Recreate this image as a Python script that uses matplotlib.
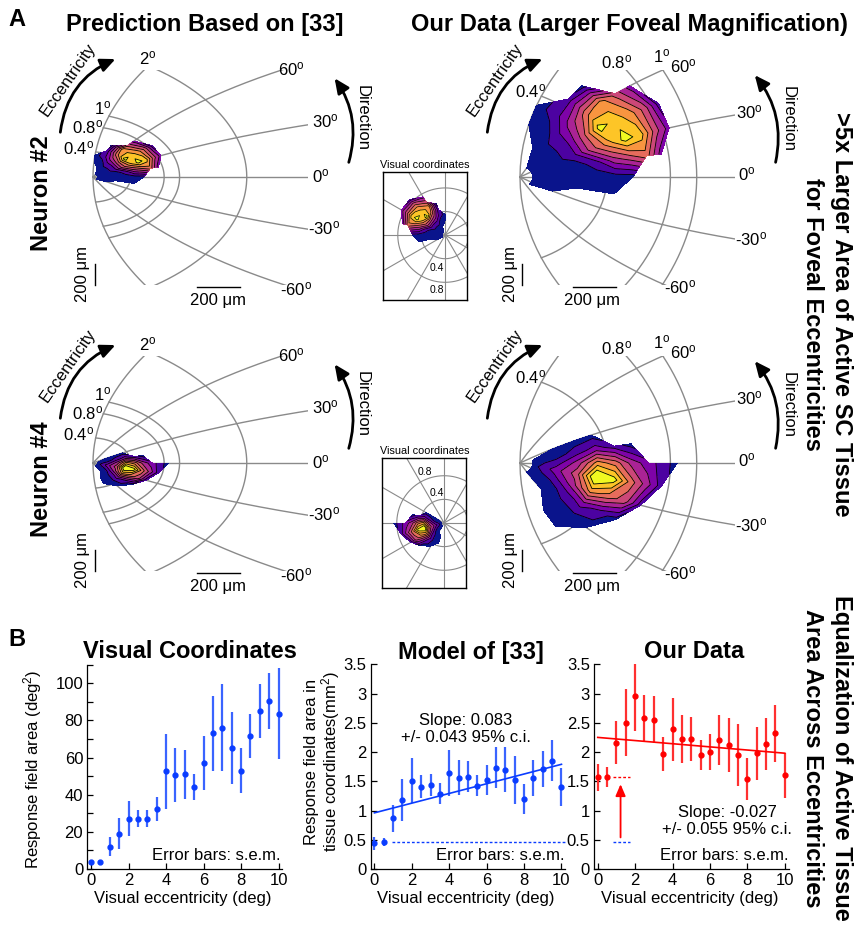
import numpy as np
import matplotlib.pyplot as plt
from matplotlib.patches import FancyArrowPatch
from matplotlib.ticker import MultipleLocator, FormatStrFormatter

plt.rcParams['font.family'] = ['Liberation Sans', 'DejaVu Sans']
plt.rcParams['mathtext.fontset'] = 'custom'
plt.rcParams['mathtext.rm'] = 'Liberation Sans'
plt.rcParams['mathtext.it'] = 'Liberation Sans:italic'
plt.rcParams['mathtext.bf'] = 'Liberation Sans:bold'

# ---------------- panel B: response field area vs eccentricity ----------------
ecc_bins = [0, 0.5, 1, 1.5, 2, 2.5, 3, 3.5, 4, 4.5, 5, 5.5, 6, 6.5, 7, 7.5, 8, 8.5, 9, 9.5, 10]
vis_area = [4, 4, 12, 19, 27, 27, 27, 32.5, 52.5, 50.5, 51, 44, 57, 73, 76, 65, 53, 71.5, 85, 90.5, 83.5]
vis_sem = [0.8, 0.8, 5, 8.5, 9.5, 4.5, 4.5, 6.5, 20, 14.5, 13.3, 7, 14.5, 20, 23.5, 19.5, 12, 12, 14.5, 15, 24.5]
model_area = [0.44, 0.46, 0.87, 1.18, 1.51, 1.41, 1.44, 1.29, 1.64, 1.56, 1.58, 1.42, 1.52, 1.73, 1.70,
              1.52, 1.20, 1.55, 1.71, 1.85, 1.40]
model_sem = [0.11, 0.07, 0.23, 0.36, 0.38, 0.20, 0.19, 0.18, 0.40, 0.30, 0.27, 0.18, 0.25, 0.35, 0.39,
             0.41, 0.26, 0.31, 0.31, 0.35, 0.32]
data_area = [1.57, 1.57, 2.16, 2.50, 2.95, 2.58, 2.55, 1.97, 2.39, 2.22, 2.22, 1.95, 2.00, 2.21, 2.12,
             1.95, 1.54, 1.98, 2.14, 2.32, 1.60]
data_sem = [0.23, 0.17, 0.37, 0.57, 0.59, 0.40, 0.40, 0.29, 0.54, 0.41, 0.38, 0.26, 0.30, 0.43, 0.46,
            0.53, 0.36, 0.45, 0.45, 0.49, 0.38]
model_slope, model_ci, model_icpt = 0.083, 0.043, 0.96
data_slope, data_ci, data_icpt = -0.027, 0.055, 2.25
model_fovea = 0.46
data_fovea = 1.57

# ---------------- panel A: response fields on a polar (ecc, direction) grid ----------------
n = np.nan
rf_ecc = [0.05, 0.15, 0.25, 0.35, 0.45, 0.55, 0.65, 0.75, 0.85]
rf_dir = [-90, -75, -60, -45, -30, -15, 0, 15, 30, 45, 60, 75, 90]
rf_neuron2 = [
    [n, n, n, 0, 0, 0, 0, 0, 0, 0, 0, n, n],
    [n, n, n, n, 0, 0, 0, 0, 0, 0, 0, 0, n],
    [n, n, n, n, n, 0, 0, 0, 1, 1, 1, 0, 0],
    [n, n, n, n, n, 0, 0, 1, 4, 4, 3, 1, 0],
    [n, n, n, n, n, 0, 0, 3, 6, 8, 5, 1, n],
    [n, n, n, n, n, n, 0, 4, 8, 7, 6, 0, n],
    [n, n, n, n, n, n, n, 5, 7, 6, 4, n, n],
    [n, n, n, n, n, n, n, 2, 4, 4, 2, n, n],
    [n, n, n, n, n, n, n, n, 2, 1, n, n, n],
]
rf_neuron4 = [
    [n, n, 0, 0, 0, 0, 0, 0, n, n, n, n, n],
    [n, n, 0, 0, 1, 2, 1, 0, 0, n, n, n, n],
    [n, 0, 0, 1, 3, 4, 3, 1, 0, n, n, n, n],
    [n, 0, 0, 2, 6, 9, 6, 2, 0, n, n, n, n],
    [n, n, 0, 1, 5, 8, 5, 1, n, n, n, n, n],
    [n, n, n, 0, 4, 5, 3, 0, n, n, n, n, n],
    [n, n, n, n, 1, 3, 2, n, n, n, n, n, n],
    [n, n, n, n, n, 1, 1, n, n, n, n, n, n],
    [n, n, n, n, n, n, 0, n, n, n, n, n, n],
]

# collicular map parameters: A (deg), Bu (mm), Bv (mm/rad)
ottes_map = (3.0, 1.4, 1.8)
our_map = (0.9, 1.10, 1.84)
map_ecc_left = [0.4, 0.8, 1, 2]
map_ecc_right = [0.4, 0.8, 1]
map_dirs = [-90, -60, -30, 0, 30, 60, 90]

W, H = 857, 931
fig = plt.figure(figsize=(W / 100, H / 100), dpi=100)
PX_U, PX_V = 215, 105   # pixels per mm on the SC maps
GREY = '#8a8a8a'
levels = [-1, 0.5, 1.5, 2.5, 3.5, 4.5, 5.5, 6.5, 7.5, 10]
band_colors = plt.cm.plasma(np.linspace(0, 1, len(levels) - 1))
band_colors[0] = (0.04, 0.08, 0.55, 1)


def add_ax(x0, y0, x1, y1):
    return fig.add_axes([x0 / W, 1 - y1 / H, (x1 - x0) / W, (y1 - y0) / H])


def put(x, y, s, **kw):
    kw.setdefault('ha', 'center')
    kw.setdefault('va', 'center')
    fig.text(x / W, 1 - y / H, s, **kw)


def deg(s):
    return s + r'$^{\mathrm{o}}$'


def sc_map(ecc, ang, A, Bu, Bv):
    z = np.asarray(ecc) * np.exp(1j * np.deg2rad(ang)) + A
    return Bu * np.log(np.abs(z) / A), Bv * np.angle(z)


def curved_arrow(p0, p1, rad, color='k', lw=2):
    a = FancyArrowPatch((p0[0] / W, 1 - p0[1] / H), (p1[0] / W, 1 - p1[1] / H),
                        transform=fig.transFigure, connectionstyle=f'arc3,rad={rad}',
                        arrowstyle='-|>,head_length=0.55,head_width=0.25', mutation_scale=16,
                        color=color, lw=lw)
    fig.patches.append(a)


ECC, DIR = np.meshgrid(rf_ecc, rf_dir, indexing='ij')


def draw_sc_map(ox, oy, params, arcs, field, bar_u):
    ax = add_ax(ox - 0.025 * PX_U, oy - 1.02 * PX_V, ox + 1.0 * PX_U, oy + 1.03 * PX_V)
    ax.set_xlim(-0.025, 1.0)
    ax.set_ylim(-1.03, 1.02)
    ax.axis('off')
    rr = np.linspace(0, 40, 800)
    for d in map_dirs:
        u, v = sc_map(rr, d, *params)
        ax.plot(u, v, color=GREY, lw=1, zorder=1)
    pp = np.linspace(-90, 90, 361)
    for e in arcs:
        u, v = sc_map(e, pp, *params)
        ax.plot(u, v, color=GREY, lw=1, zorder=1)
    X, Y = sc_map(ECC, DIR, *params)
    Z = np.ma.masked_invalid(np.array(field, dtype=float))
    ax.contourf(X, Y, Z, levels=levels, colors=band_colors, zorder=2)
    ax.contour(X, Y, Z, levels=levels[1:-1], colors='k', linewidths=0.6, zorder=3)
    # 200 um scale bars
    ax.plot([bar_u, bar_u + 0.2], [-1.048, -1.048], color='k', lw=1, clip_on=False)
    ax.plot([0.01, 0.01], [-1.03, -0.83], color='k', lw=1, clip_on=False)
    return ax


def draw_visual(x0, y0, x1, y1, ylim, field):
    ax = add_ax(x0, y0, x1, y1)
    ax.set_xlim(-1.05, 0.37)
    ax.set_ylim(*ylim)
    ax.set_xticks([])
    ax.set_yticks([])
    for s in ax.spines.values():
        s.set_linewidth(1)
    t = np.linspace(0, 2 * np.pi, 200)
    for r in [0.4, 0.8]:
        ax.plot(r * np.cos(t), r * np.sin(t), color=GREY, lw=0.8, zorder=1)
    for a in range(0, 180, 30):
        ar = np.deg2rad(a)
        ax.plot([-2 * np.cos(ar), 2 * np.cos(ar)], [-2 * np.sin(ar), 2 * np.sin(ar)],
                color=GREY, lw=0.8, zorder=1)
    rad = np.deg2rad(DIR)
    X, Y = -ECC * np.cos(rad), ECC * np.sin(rad)
    Z = np.ma.masked_invalid(np.array(field, dtype=float))
    ax.contourf(X, Y, Z, levels=levels, colors=band_colors, zorder=2)
    ax.contour(X, Y, Z, levels=levels[1:-1], colors='k', linewidths=0.5, zorder=3)
    return ax


left_ecc_labels = [('2', 148, 58), ('1', 103, 108), ('0.8', 88, 127), ('0.4', 79, 148)]
left_dir_labels = [('60', 291, 69), ('30', 325, 121), ('0', 321, 176), ('-30', 324, 228), ('-60', 296, 289)]
right_ecc_labels = [('0.4', 531, 91), ('0.8', 617, 62), ('1', 662, 56)]
right_dir_labels = [('60', 683, 66), ('30', 749, 112), ('0', 747, 174), ('-30', 751, 239), ('-60', 680, 287)]

for row, (field, dy, name) in enumerate([(rf_neuron2, 0, 'Neuron #2'), (rf_neuron4, 286, 'Neuron #4')]):
    draw_sc_map(93, 177 + dy, ottes_map, map_ecc_left, field, 0.484)
    draw_sc_map(520, 177 + dy, our_map, map_ecc_right, field, 0.247)
    for s, x, y in left_ecc_labels + left_dir_labels + right_ecc_labels + right_dir_labels:
        put(x, y + dy, deg(s), fontsize=12)
    # scale bar labels
    put(218, 300 + dy, '200 μm', fontsize=12)
    put(592, 300 + dy, '200 μm', fontsize=12)
    put(82, 274 + dy, '200 μm', fontsize=12, rotation=90)
    put(510, 274 + dy, '200 μm', fontsize=12, rotation=90)
    # eccentricity / direction arrows
    for ex in (0, 427):
        curved_arrow((60 + ex, 135 + dy), (118 + ex, 58 + dy), -0.3)
        put(68 + ex, 80 + dy, 'Eccentricity', fontsize=12, rotation=55)
    curved_arrow((348, 165 + dy), (333, 76 + dy), 0.25)
    put(362, 118 + dy, 'Direction', fontsize=12, rotation=270)
    curved_arrow((775, 165 + dy), (753, 73 + dy), 0.25)
    put(788, 119 + dy, 'Direction', fontsize=12, rotation=270)
    put(41, 193 + dy, name, fontsize=17, fontweight='bold', rotation=90)

ax_v2 = draw_visual(383, 172, 467, 300, (-1.10, 1.07), rf_neuron2)
put(425, 165, 'Visual coordinates', fontsize=7.8)
ax_v2.text(-0.14, -0.56, '0.4', fontsize=7.5, ha='center', va='center')
ax_v2.text(-0.14, -0.93, '0.8', fontsize=7.5, ha='center', va='center')
ax_v4 = draw_visual(382, 458, 466, 588, (-1.10, 1.10), rf_neuron4)
put(425, 451, 'Visual coordinates', fontsize=7.8)
ax_v4.text(-0.32, 0.86, '0.8', fontsize=7.5, ha='center', va='center')
ax_v4.text(-0.12, 0.51, '0.4', fontsize=7.5, ha='center', va='center')

put(17, 20, 'A', fontsize=17, fontweight='bold')
put(205, 24, 'Prediction Based on [33]', fontsize=17, fontweight='bold')
put(629, 24, 'Our Data (Larger Foveal Magnification)', fontsize=17, fontweight='bold')
put(842, 314, '>5x Larger Area of Active SC Tissue', fontsize=17, fontweight='bold', rotation=270)
put(812, 314, 'for Foveal Eccentricities', fontsize=17, fontweight='bold', rotation=270)

# ---------------- panel B ----------------
BLUE, BLUE_BAR = '#0a3cff', '#3a64ff'
RED, RED_BAR = '#ff0000', '#ff3030'


def style_b(ax, ymax):
    ax.set_xlim(-0.2, 10.2)
    ax.set_ylim(0, ymax)
    ax.spines[['top', 'right']].set_visible(False)
    for s in ['left', 'bottom']:
        ax.spines[s].set_linewidth(0.9)
    ax.set_xticks(range(0, 11, 2))
    ax.tick_params(which='both', direction='in', length=4, width=0.9, labelsize=12, pad=3)


ax1 = add_ax(87.3, 664.7, 282.3, 869)
ax1.errorbar(ecc_bins, vis_area, yerr=vis_sem, fmt='o', ms=3.5, color=BLUE, ecolor=BLUE_BAR,
             elinewidth=1.6, capsize=0)
style_b(ax1, 110)
ax1.set_yticks(range(0, 101, 20))
ax1.yaxis.set_minor_locator(MultipleLocator(10))

ax2 = add_ax(370.7, 664.3, 565.2, 869)
ax2.errorbar(ecc_bins, model_area, yerr=model_sem, fmt='o', ms=3.5, color=BLUE, ecolor=BLUE_BAR,
             elinewidth=1.6, capsize=0)
fit_x = np.array([0, 10])
ax2.plot(fit_x, model_icpt + model_slope * fit_x, color=BLUE, lw=1.2)
ax2.plot([0.93, 10.2], [model_fovea, model_fovea], color=BLUE, lw=1, ls=(0, (2, 1.5)), clip_on=False)
style_b(ax2, 3.5)

ax3 = add_ax(594, 664.3, 788.5, 869)
ax3.errorbar(ecc_bins, data_area, yerr=data_sem, fmt='o', ms=3.5, color=RED, ecolor=RED_BAR,
             elinewidth=1.6, capsize=0)
ax3.plot(fit_x, data_icpt + data_slope * fit_x, color=RED, lw=1.2)
ax3.plot([0.8, 1.7], [data_fovea, data_fovea], color=RED, lw=1, ls=(0, (2, 1.5)))
ax3.plot([0.8, 1.7], [model_fovea, model_fovea], color=BLUE, lw=1, ls=(0, (2, 1.5)))
ax3.annotate('', xy=(1.22, data_fovea - 0.12), xytext=(1.22, model_fovea + 0.08),
             arrowprops=dict(arrowstyle='-|>,head_length=0.7,head_width=0.3', color=RED, lw=1.3,
                             shrinkA=0, shrinkB=0, mutation_scale=10))
style_b(ax3, 3.5)
for ax in (ax2, ax3):
    ax.set_yticks(np.arange(0, 3.51, 0.5))
    ax.yaxis.set_major_formatter(FormatStrFormatter('%g'))

put(17, 640, 'B', fontsize=17, fontweight='bold')
put(190, 652, 'Visual Coordinates', fontsize=17, fontweight='bold')
put(471, 652, 'Model of [33]', fontsize=17, fontweight='bold')
put(694, 651, 'Our Data', fontsize=17, fontweight='bold')
for xc in (183, 466, 690):
    put(xc, 899, 'Visual eccentricity (deg)', fontsize=12)
put(33, 769, r'Response field area (deg$^2$)', fontsize=12, rotation=90)
put(323, 762, 'Response field area in\n' + r'tissue coordinates(mm$^2$)', fontsize=12, rotation=90,
    linespacing=1.0)
put(466, 721, f'Slope: {model_slope:.3f}', fontsize=12)
put(466, 738, f'+/- {model_ci:.3f} 95% c.i.', fontsize=12)
put(727, 812, f'Slope: {data_slope:.3f}', fontsize=12)
put(727, 829, f'+/- {data_ci:.3f} 95% c.i.', fontsize=12)
for xr in (280, 565, 788):
    put(xr, 855, 'Error bars: s.e.m.', fontsize=12, ha='right')
put(842, 758, 'Equalization of Active Tissue', fontsize=17, fontweight='bold', rotation=270)
put(812, 758, 'Area Across Eccentricities', fontsize=17, fontweight='bold', rotation=270)

fig.savefig('out.png', dpi=100)
